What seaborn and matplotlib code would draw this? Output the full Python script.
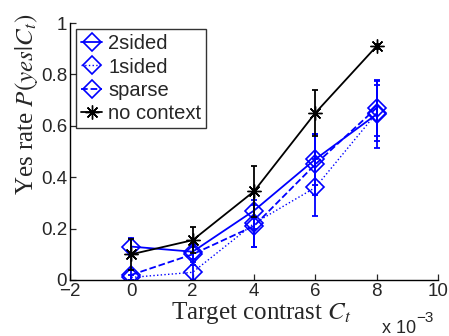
import matplotlib
matplotlib.use("Agg")
import matplotlib.pyplot as plt
import seaborn as sns
import pandas as pd

contrast = [0, 2, 4, 6, 8]
two_sided = [0.13, 0.11, 0.27, 0.47, 0.645]
two_sided_err = [0.035, 0.03, 0.07, 0.10, 0.13]
one_sided = [0.01, 0.03, 0.22, 0.36, 0.65]
one_sided_err = [0.01, 0.03, 0.09, 0.11, 0.11]
sparse = [0.02, 0.10, 0.21, 0.45, 0.67]
sparse_err = [0.02, 0.03, 0.08, 0.12, 0.11]
no_context = [0.10, 0.155, 0.345, 0.65, 0.91]
no_context_err = [0.06, 0.05, 0.10, 0.09, 0.01]

series = [
    ("2sided", two_sided, two_sided_err, "#0000ff", "-", "D"),
    ("1sided", one_sided, one_sided_err, "#0000ff", ":", "D"),
    ("sparse", sparse, sparse_err, "#0000ff", "--", "D"),
    ("no context", no_context, no_context_err, "black", "-", "*"),
]

sns.set_style("white")
plt.rcParams["font.family"] = ["Liberation Sans", "DejaVu Sans"]
plt.rcParams["mathtext.fontset"] = "stix"

fig = plt.figure(figsize=(4.49, 3.36), dpi=100)
ax = fig.add_axes([70 / 449, 56 / 336, 368 / 449, 257 / 336])

for name, vals, err, col, ls, mk in series:
    df = pd.DataFrame({"x": contrast, "y": vals})
    if mk == "D":
        kw = dict(marker="D", markersize=9, markerfacecolor="none",
                  markeredgecolor=col, markeredgewidth=1.2)
    else:
        kw = dict(marker=(8, 2, 0), markersize=10, markeredgecolor=col,
                  markeredgewidth=1.0)
    lw = 1.0 if ls == ":" else 1.3
    sns.lineplot(data=df, x="x", y="y", ax=ax, color=col, linestyle=ls,
                 linewidth=lw, label=name, **kw)
    ax.errorbar(contrast, vals, yerr=err, fmt="none", ecolor=col,
                elinewidth=1.3, capsize=2.5, capthick=1.3)

ax.set_xlim(-2, 10)
ax.set_ylim(0, 1)
ax.set_xticks([-2, 0, 2, 4, 6, 8, 10])
ax.set_xticklabels(["\u22122", "0", "2", "4", "6", "8", "10"])
ax.set_yticks([0, 0.2, 0.4, 0.6, 0.8, 1])
ax.set_yticklabels(["0", "0.2", "0.4", "0.6", "0.8", "1"])
ax.tick_params(direction="in", length=4, labelsize=13.5, width=0.9,
               left=True, bottom=True, pad=2)
for s in ["top", "right"]:
    ax.spines[s].set_visible(False)
for s in ["left", "bottom"]:
    ax.spines[s].set_color("black")
    ax.spines[s].set_linewidth(1.0)

ax.set_xlabel(r"Target contrast $C_t$", family="Liberation Serif",
              fontsize=18)
ax.xaxis.set_label_coords((261 - 70) / 368, (280 - 300) / 257)
ax.set_ylabel(r"Yes rate $P(yes|C_t)$", family="Liberation Serif",
              fontsize=18)
ax.yaxis.set_label_coords((40 - 70) / 368, (280 - 104) / 257)

fig.text(382 / 449, 1 - 333 / 336, "x 10", fontsize=13)
fig.text(416 / 449, 1 - 322 / 336, "\u22123", fontsize=11)

leg = ax.legend(loc="upper left", bbox_to_anchor=(0.0, 1.0), frameon=True,
                fancybox=False, fontsize=14.5, handlelength=1.05,
                handletextpad=0.3, borderpad=0.25, labelspacing=0.22,
                borderaxespad=0.3)
leg.get_frame().set_edgecolor("black")
leg.get_frame().set_linewidth(1.0)

fig.savefig("out.png", dpi=100)
